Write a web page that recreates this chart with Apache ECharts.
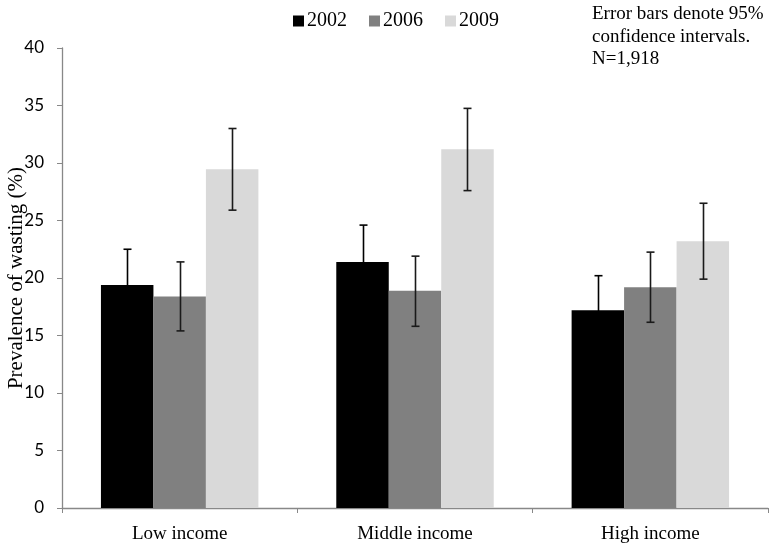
<!DOCTYPE html>
<html>
<head>
<meta charset="utf-8">
<script src="https://cdn.jsdelivr.net/npm/echarts@6/dist/echarts.min.js"></script>
<style>html,body{margin:0;padding:0;background:#fff}#c{width:771px;height:546px}</style>
</head>
<body>
<div id="c"></div>
<script>
const categories = ['Low income', 'Middle income', 'High income'];
const years = ['2002', '2006', '2009'];
const v2002 = [19.4, 21.4, 17.2];
const v2006 = [18.4, 18.9, 19.2];
const v2009 = [29.45, 31.2, 23.2];
const lo2002 = [16.3, 18.2, 14.25];
const hi2002 = [22.5, 24.6, 20.2];
const lo2006 = [15.4, 15.8, 16.15];
const hi2006 = [21.4, 21.9, 22.25];
const lo2009 = [25.9, 27.6, 19.9];
const hi2009 = [33.0, 34.75, 26.5];
const yTicks = [0, 5, 10, 15, 20, 25, 30, 35, 40];
const noteLines = ['Error bars denote 95%', 'confidence intervals.', 'N=1,918'];

const colors = ['#000000', '#808080', '#d9d9d9'];
const values = [v2002, v2006, v2009];
const lows = [lo2002, lo2006, lo2009];
const highs = [hi2002, hi2006, hi2009];
const BAR_FRAC = 0.223;

const serif = '"Liberation Serif", "DejaVu Serif", serif';

const barSeries = years.map((y, i) => ({
  name: y, type: 'bar', data: values[i],
  barWidth: (BAR_FRAC * 100) + '%', barGap: '0%',
  itemStyle: { color: colors[i] }, z: 2
}));

const errData = [];
for (let s = 0; s < 3; s++) {
  for (let c = 0; c < categories.length; c++) {
    errData.push([c, lows[s][c], highs[s][c], s]);
  }
}

const errSeries = {
  type: 'custom', name: 'err', data: errData, z: 5,
  encode: { x: 0, y: [1, 2] },
  renderItem: function (params, api) {
    const c = api.value(0), lo = api.value(1), hi = api.value(2), s = api.value(3);
    const band = api.size([1, 0])[0];
    const bw = band * BAR_FRAC;
    const p1 = api.coord([c, lo]);
    const p2 = api.coord([c, hi]);
    const x = Math.round(p1[0] + (s - 1) * bw) + 0.5;
    const cap = 4;
    const col = s === 0 ? '#000' : '#1a1a1a';
    const st = { stroke: col, lineWidth: 1.6 };
    return { type: 'group', children: [
      { type: 'line', shape: { x1: x, y1: p1[1], x2: x, y2: p2[1] }, style: st },
      { type: 'line', shape: { x1: x - cap, y1: p1[1], x2: x + cap, y2: p1[1] }, style: st },
      { type: 'line', shape: { x1: x - cap, y1: p2[1], x2: x + cap, y2: p2[1] }, style: st }
    ]};
  }
};

const chart = echarts.init(document.getElementById('c'), null, { renderer: 'canvas' });
chart.setOption({
  animation: false,
  backgroundColor: '#fff',
  grid: { left: 62, right: 3, top: 48, bottom: 38, containLabel: false, outerBoundsMode: 'none' },
  legend: {
    data: years, left: 288, top: 6, itemWidth: 11, itemHeight: 11, itemGap: 22,
    icon: 'rect',
    textStyle: { fontFamily: serif, fontSize: 20, color: '#000', padding: [0, 0, 0, -2] }
  },
  graphic: noteLines.map((t, i) => ({
    type: 'text', left: 592, top: 5 + i * 22.5,
    style: { text: t, font: '19px ' + serif, fill: '#000' }
  })),
  xAxis: {
    type: 'category', data: categories,
    axisLine: { lineStyle: { color: '#888', width: 1.3 } },
    axisTick: { show: true, length: 5, lineStyle: { color: '#888' } },
    axisLabel: { fontFamily: serif, fontSize: 19, color: '#000', margin: 17 }
  },
  yAxis: {
    type: 'value', min: yTicks[0], max: yTicks[yTicks.length - 1], interval: 5,
    name: 'Prevalence of wasting (%)', nameLocation: 'middle', nameGap: 35, nameRotate: 90,
    nameMoveOverlap: false,
    nameTextStyle: { fontFamily: serif, fontSize: 21, color: '#000' },
    axisLine: { show: true, lineStyle: { color: '#888', width: 1.3 } },
    axisTick: { show: true, length: 5, lineStyle: { color: '#888' } },
    splitLine: { show: false },
    axisLabel: { fontFamily: 'Lato, "Open Sans", sans-serif', fontSize: 17, color: '#000', margin: 18 }
  },
  series: barSeries.concat([errSeries])
});
</script>
</body>
</html>
